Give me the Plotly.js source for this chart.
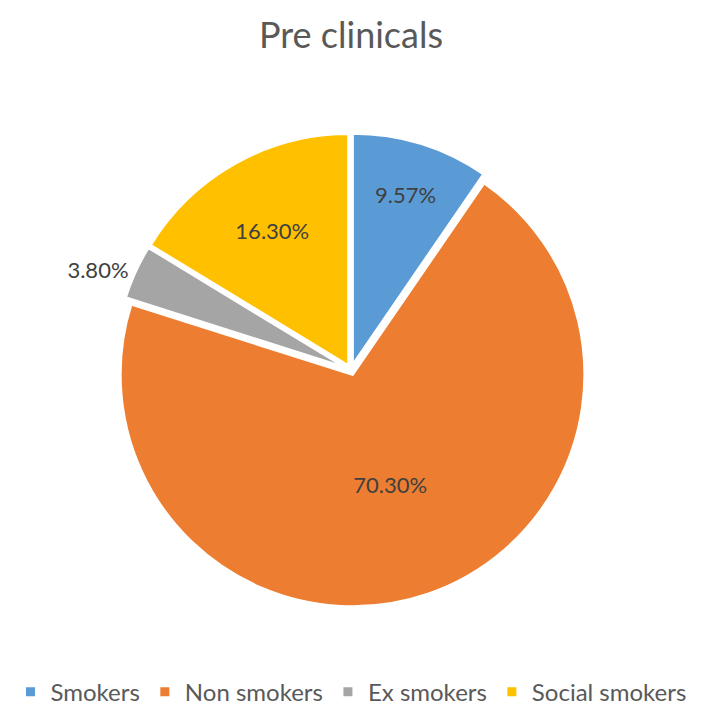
<!DOCTYPE html>
<html>
<head>
<meta charset="utf-8">
<script src="https://cdn.plot.ly/plotly-3.0.1.min.js"></script>
<style>html,body{margin:0;padding:0;background:#fff;}#chart{width:702px;height:712px;}</style>
</head>
<body>
<div id="chart"></div>
<script>
const categories = ["Smokers", "Non smokers", "Ex smokers", "Social smokers"];
const shares = [9.57, 70.30, 3.80, 16.30];
const colors = ["#5B9BD5", "#ED7D31", "#A5A5A5", "#FFC000"];
const labelPositions = ["inside", "inside", "outside", "inside"];

const trace = {
  type: "pie",
  labels: categories,
  values: shares,
  sort: false,
  direction: "clockwise",
  rotation: 0,
  pull: [0.02, 0.02, 0.02, 0.02],
  marker: {colors: colors, line: {color: "#ffffff", width: 3}},
  texttemplate: "%{value:.2f}%",
  textposition: labelPositions,
  insidetextorientation: "horizontal",
  textfont: {family: "Lato, 'Open Sans', sans-serif", size: 22, color: "#404040"},
  hoverinfo: "label+value",
  automargin: false
};

const layout = {
  width: 702,
  height: 712,
  paper_bgcolor: "#ffffff",
  margin: {l: 0, r: 0, t: 133, b: 105},
  title: {
    text: "Pre clinicals",
    font: {family: "Lato, 'Open Sans', sans-serif", size: 36, color: "#595959"},
    x: 0.5, xanchor: "center",
    y: 0.95, yanchor: "middle", yref: "container"
  },
  showlegend: true,
  legend: {
    orientation: "h",
    x: 0.5, xanchor: "center",
    y: 0.028, yanchor: "middle", yref: "container",
    font: {family: "Lato, 'Open Sans', sans-serif", size: 24, color: "#595959"},
    itemwidth: 30
  }
};

Plotly.newPlot("chart", [trace], layout, {displayModeBar: false});
</script>
</body>
</html>
